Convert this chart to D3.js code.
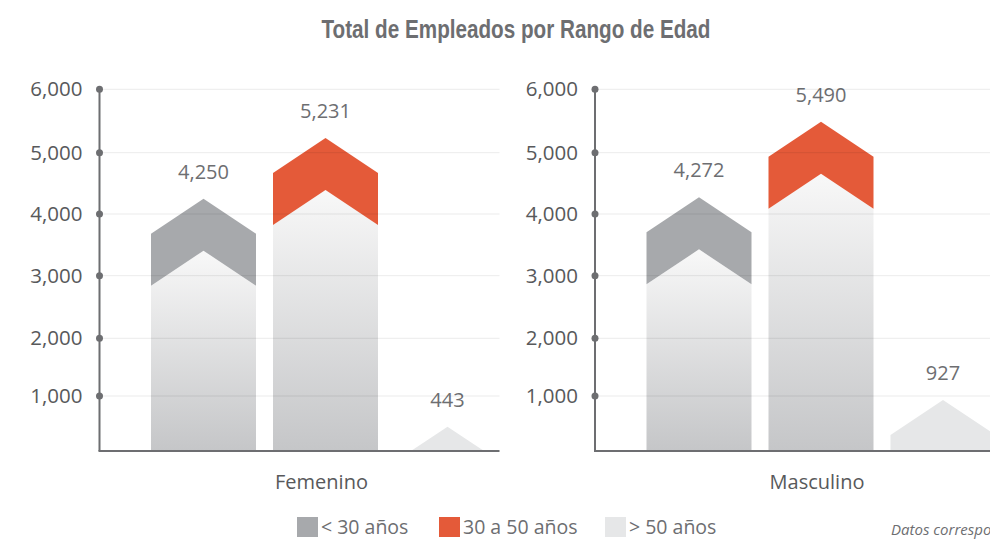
<!DOCTYPE html>
<html>
<head>
<meta charset="utf-8">
<script src="https://cdn.jsdelivr.net/npm/d3@7"></script>
<style>
  body { margin: 0; background: #fff; }
  svg { display: block; overflow: hidden; font-family: "Open Sans", sans-serif; }
</style>
</head>
<body>
<div class="chart"></div>
<script>
// data
let groups = ["Femenino", "Masculino"]
let ageRanges = ["< 30 años", "30 a 50 años", "> 50 años"]
let femenino = [4250, 5231, 443]
let masculino = [4272, 5490, 927]
let yTicks = [1000, 2000, 3000, 4000, 5000, 6000]
let colors = ["#a7a9ac", "#e45a39", "#e6e7e8"]

let svgWidth = 990
let svgHeight = 539

let svg = d3.select('.chart')
    .append('svg')
    .attr('width', svgWidth)
    .attr('height', svgHeight)

let defs = svg.append('defs')
let grad = defs.append('linearGradient')
    .attr('id', 'bodyGrad')
    .attr('x1', 0).attr('y1', 0).attr('x2', 0).attr('y2', 1)
grad.append('stop').attr('offset', '0%').attr('stop-color', '#f8f8f8')
grad.append('stop').attr('offset', '100%').attr('stop-color', '#c5c6c8')

// the printed axis is not evenly spaced, follow it
let yScale = d3.scaleLinear()
    .domain([0, 1000, 2000, 3000, 4000, 5000, 6000])
    .range([451, 396, 338.3, 275.7, 214, 152.7, 89.3])

let baseY = yScale(0)

defs.append('clipPath')
    .attr('id', 'baseClip')
    .append('rect')
    .attr('x', 0).attr('y', 0)
    .attr('width', svgWidth).attr('height', baseY)

// title (condensed bold look)
svg.append('text')
    .attr('x', 516)
    .attr('y', 38)
    .attr('text-anchor', 'middle')
    .attr('textLength', 389)
    .attr('lengthAdjust', 'spacingAndGlyphs')
    .style('font-family', '"Liberation Sans Narrow", "Arial Narrow", "Liberation Sans", sans-serif')
    .style('font-weight', 'bold')
    .style('font-size', '26px')
    .attr('fill', '#6d6e71')
    .text('Total de Empleados por Rango de Edad')

let panelAxisX = [99.5, 595]
let panelWidth = 400
let drop = 35   // shoulder drop of the chevron
let band = 52   // chevron thickness

groups.forEach(function(group, gi) {
    let values = gi == 0 ? femenino : masculino
    let ax = panelAxisX[gi]
    let g = svg.append('g')

    let xScale = d3.scaleBand()
        .domain(ageRanges)
        .range([ax + 51.5, ax + 400.5])
        .paddingInner(17 / 122)
        .paddingOuter(0)
    let bw = xScale.bandwidth()

    let bars = g.append('g').attr('clip-path', 'url(#baseClip)')

    values.forEach(function(v, i) {
        let x0 = xScale(ageRanges[i])
        let cx = x0 + bw / 2
        let x1 = x0 + bw
        let tip = yScale(v)
        // body under the chevron
        let body = d3.path()
        body.moveTo(x0, tip + band + drop)
        body.lineTo(cx, tip + band)
        body.lineTo(x1, tip + band + drop)
        body.lineTo(x1, baseY)
        body.lineTo(x0, baseY)
        body.closePath()
        bars.append('path')
            .attr('d', body.toString())
            .attr('fill', i == 2 ? colors[2] : 'url(#bodyGrad)')
        // chevron head
        let head = d3.path()
        head.moveTo(cx, tip)
        head.lineTo(x1, tip + drop)
        head.lineTo(x1, tip + drop + band)
        head.lineTo(cx, tip + band)
        head.lineTo(x0, tip + drop + band)
        head.lineTo(x0, tip + drop)
        head.closePath()
        bars.append('path')
            .attr('d', head.toString())
            .attr('fill', colors[i])

        g.append('text')
            .attr('x', cx)
            .attr('y', tip - 20)
            .attr('text-anchor', 'middle')
            .attr('fill', '#6d6e71')
            .style('font-size', '20px')
            .text(d3.format(',')(v))
    })

    // gridlines on top of the bars
    g.selectAll('.grid')
        .data(yTicks)
        .join('line')
        .attr('x1', ax).attr('x2', ax + panelWidth)
        .attr('y1', d => yScale(d)).attr('y2', d => yScale(d))
        .attr('stroke', '#000')
        .attr('stroke-opacity', 0.08)
        .attr('stroke-width', 1)

    // axis
    g.append('line')
        .attr('x1', ax).attr('x2', ax)
        .attr('y1', yScale(6000)).attr('y2', baseY)
        .attr('stroke', '#6d6e71').attr('stroke-width', 2)
    g.append('line')
        .attr('x1', ax - 1).attr('x2', ax + panelWidth)
        .attr('y1', baseY).attr('y2', baseY)
        .attr('stroke', '#6d6e71').attr('stroke-width', 2)
    g.selectAll('.dot')
        .data(yTicks)
        .join('circle')
        .attr('cx', ax)
        .attr('cy', d => yScale(d))
        .attr('r', 3.5)
        .attr('fill', '#6d6e71')
    g.selectAll('.tick')
        .data(yTicks)
        .join('text')
        .attr('x', ax - 17)
        .attr('y', d => yScale(d))
        .attr('dy', '0.35em')
        .attr('text-anchor', 'end')
        .attr('fill', '#58595b')
        .style('font-size', '20.5px')
        .text(d => d3.format(',')(d))

    g.append('text')
        .attr('x', ax + 222)
        .attr('y', 489)
        .attr('text-anchor', 'middle')
        .attr('fill', '#58595b')
        .style('font-size', '20px')
        .text(group)
})

// legend
let legendX = [297, 439, 605]
let legend = svg.append('g')
ageRanges.forEach(function(name, i) {
    legend.append('rect')
        .attr('x', legendX[i]).attr('y', 517)
        .attr('width', 21).attr('height', 20)
        .attr('fill', colors[i])
    legend.append('text')
        .attr('x', legendX[i] + 24)
        .attr('y', 534)
        .attr('fill', '#6d6e71')
        .style('font-size', '19.5px')
        .text(name)
})

svg.append('text')
    .attr('x', 891)
    .attr('y', 535)
    .attr('fill', '#6d6e71')
    .style('font-size', '15px')
    .style('font-style', 'italic')
    .text('Datos correspondientes')
</script>
</body>
</html>
